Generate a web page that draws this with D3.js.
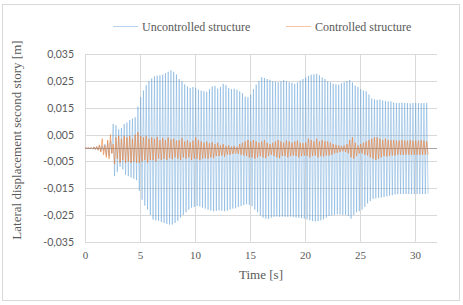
<!DOCTYPE html>
<html>
<head>
<meta charset="utf-8">
<script src="https://cdn.jsdelivr.net/npm/d3@7"></script>
<style>
  body { margin: 0; background: #fff; }
  svg { display: block; }
</style>
</head>
<body>
<div id="chart"></div>
<script>
// peaks, one max and one min per 0.25 s cycle, in mm
const cycleLength = 0.25;

const uncontrolledUpper = [
  0.2, 0.3, 0.2, 0.5,  0.6, 1.0, 0.8, 1.5,  2.0, 2.6, 9.0, 8.5,  7.0, 7.5, 9.0, 9.5,
  10.5, 11.0, 11.5, 15.5,  19.0, 21.5, 23.5, 25.0,  26.0, 26.8, 27.0, 27.2,  27.4, 28.0, 28.5, 29.0,
  28.5, 27.5, 25.8, 25.0,  23.8, 23.0, 22.5, 22.8,  22.5, 21.8, 21.5, 21.2,  21.0, 22.0, 23.0, 23.2,
  22.2, 22.8, 24.0, 23.5,  22.4, 22.0, 22.2, 21.8,  21.2, 20.5, 19.2, 19.0,  20.0, 22.0, 23.7, 25.0,
  26.5, 26.2, 25.8, 25.5,  25.0, 24.8, 24.6, 25.0,  25.4, 25.0, 24.6, 24.4,  24.0, 24.5, 25.2, 25.8,
  26.4, 27.0, 27.4, 27.6,  27.7, 27.2, 26.4, 25.8,  25.0, 24.6, 24.0, 23.8,  23.7, 24.2, 24.6, 25.0,
  25.4, 24.5, 23.3, 22.8,  22.0, 21.5, 21.2, 20.0,  18.5, 18.2, 18.0, 18.1,  17.8, 17.6, 17.4, 17.4,
  17.0, 16.8, 16.8, 16.9,  16.8, 16.8, 16.7, 16.8,  16.8, 16.8, 16.8, 16.8,  16.8
];
const uncontrolledLower = [
  -0.2, -0.3, -0.4, -0.6,  -0.8, -1.2, -1.0, -2.5,  -3.0, -2.0, -10.5, -9.0,  -7.0, -8.0, -10.0, -10.5,
  -11.0, -11.5, -12.0, -16.0,  -19.3, -21.5, -23.0, -25.0,  -26.7, -27.0, -27.2, -27.6,  -28.0, -28.4, -28.6, -28.6,
  -28.0, -27.2, -26.0, -25.0,  -24.0, -23.0, -22.3, -22.0,  -21.7, -21.8, -22.3, -22.6,  -23.0, -23.3, -23.6, -23.5,
  -23.3, -23.4, -23.6, -23.4,  -23.0, -22.6, -22.5, -22.0,  -21.7, -21.3, -21.0, -21.2,  -21.7, -23.0, -24.0, -25.2,
  -26.0, -26.4, -26.5, -26.0,  -25.7, -25.6, -25.7, -25.6,  -25.7, -25.7, -25.6, -25.8,  -26.0, -26.0, -26.2, -26.4,
  -26.7, -27.0, -27.3, -27.4,  -27.3, -27.0, -26.6, -26.0,  -25.4, -25.2, -25.0, -24.8,  -24.8, -25.0, -25.0, -25.4,
  -26.4, -25.0, -24.0, -23.6,  -23.0, -22.0, -20.7, -19.8,  -19.0, -18.8, -18.6, -18.5,  -18.3, -18.0, -17.8, -17.6,
  -17.3, -17.2, -17.2, -17.2,  -17.2, -17.2, -17.2, -17.2,  -17.2, -17.2, -17.2, -17.2,  -17.0
];

const controlledUpper = [
  0.1, 0.1, 0.2, 0.4,  0.6, 1.2, 3.5, 1.0,  3.0, 5.0, 1.5, 4.0,  4.5, 3.5, 4.5, 4.0,
  4.5, 3.5, 5.0, 6.0,  4.5, 4.0, 4.5, 3.5,  4.0, 3.5, 4.2, 3.0,  3.8, 3.0, 4.0, 3.2,
  3.5, 2.8, 3.0, 3.8,  2.5, 3.0, 2.2, 2.8,  4.0, 3.0, 2.5, 2.0,  2.5, 1.8, 2.2, 1.5,
  2.0, 1.0, 1.5, 0.8,  1.0, 0.5, 0.8, 0.4,  1.5, 2.0, 2.5, 3.0,  2.5, 3.0, 2.5, 2.0,
  2.5, 3.0, 2.0, 1.5,  2.0, 2.5, 3.0, 2.5,  2.0, 2.8, 2.5, 2.0,  2.5, 2.8, 2.0, 1.8,
  2.0, 3.5, 3.0, 2.5,  3.5, 2.5, 3.0, 2.5,  2.5, 2.0, 1.5, 1.2,  1.0, 0.8, 1.0, 1.5,
  3.0, 4.0, 2.0, 1.0,  1.5, 2.0, 2.5, 3.0,  3.5, 4.0, 4.0, 3.5,  3.0, 3.5, 3.0, 3.0,
  3.0, 2.8, 2.8, 3.0,  2.8, 2.8, 3.0, 2.8,  2.8, 2.8, 3.0, 2.8,  2.5
];
const controlledLower = [
  -0.1, -0.2, -0.3, -0.5,  -0.8, -1.5, -2.5, -3.5,  -4.0, -2.0, -6.0, -4.0,  -5.5, -4.5, -5.5, -5.0,
  -5.5, -5.0, -5.5, -5.5,  -5.0, -4.5, -5.5, -4.5,  -4.5, -5.0, -4.0, -4.5,  -4.0, -4.5, -3.8, -4.2,
  -3.5, -4.0, -4.5, -3.5,  -4.0, -3.5, -4.5, -4.0,  -4.0, -4.5, -4.0, -3.8,  -4.0, -3.5, -3.8, -3.0,
  -3.0, -2.8, -3.2, -2.5,  -2.5, -2.2, -2.0, -2.2,  -2.5, -2.8, -3.0, -3.5,  -3.5, -4.0, -3.5, -3.0,
  -3.5, -3.8, -3.0, -2.5,  -3.0, -3.5, -3.8, -3.0,  -3.0, -3.5, -3.0, -2.8,  -3.0, -3.5, -3.0, -2.8,
  -3.0, -3.5, -3.0, -2.8,  -3.5, -3.0, -3.2, -2.8,  -2.8, -2.5, -2.0, -1.8,  -1.5, -1.2, -1.5, -2.0,
  -3.5, -4.0, -3.0, -2.0,  -2.0, -2.5, -2.8, -3.5,  -4.0, -4.5, -4.0, -3.5,  -3.0, -3.2, -3.0, -2.8,
  -2.8, -2.5, -2.5, -2.6,  -2.5, -2.5, -2.6, -2.5,  -2.5, -2.6, -2.5, -2.5,  -2.5
];

const xTicks = [0, 5, 10, 15, 20, 25, 30];
const yTicks = [-0.035, -0.025, -0.015, -0.005, 0.005, 0.015, 0.025, 0.035];
const seriesNames = ["Uncontrolled structure", "Controlled structure"];
const seriesColors = ["#5B9BD5", "#ED7D31"];
const seriesWidths = [0.5, 0.7];

const w = 463;
const h = 305;

// turn the per-cycle peaks into [time, metres] points
function buildPoints(upper, lower) {
  const pts = [[0, 0]];
  upper.forEach((u, i) => {
    pts.push([i * cycleLength + cycleLength * 0.25, u / 1000]);
    pts.push([i * cycleLength + cycleLength * 0.75, lower[i] / 1000]);
  });
  return pts;
}

const series = [
  buildPoints(uncontrolledUpper, uncontrolledLower),
  buildPoints(controlledUpper, controlledLower)
];

const svg = d3.select("#chart")
  .append("svg")
  .attr("width", w)
  .attr("height", h);

// outer chart border
svg.append("rect")
  .attr("x", 2.5)
  .attr("y", 4.5)
  .attr("width", 457)
  .attr("height", 296)
  .attr("fill", "#fff")
  .attr("stroke", "#D9D9D9");

const xScale = d3.scaleLinear()
  .domain([0, 32])
  .range([85, 437]);

const yScale = d3.scaleLinear()
  .domain([-0.035, 0.035])
  .range([241.7, 54.4]);

// gridlines
svg.append("g")
  .selectAll("line.hgrid")
  .data(yTicks)
  .join("line")
    .attr("class", "hgrid")
    .attr("x1", xScale(0))
    .attr("x2", xScale(32))
    .attr("y1", d => Math.round(yScale(d)) + 0.5)
    .attr("y2", d => Math.round(yScale(d)) + 0.5)
    .attr("stroke", "#D9D9D9")
    .attr("stroke-width", 1);

svg.append("g")
  .selectAll("line.vgrid")
  .data(xTicks)
  .join("line")
    .attr("class", "vgrid")
    .attr("x1", d => Math.round(xScale(d)) + 0.5)
    .attr("x2", d => Math.round(xScale(d)) + 0.5)
    .attr("y1", yScale(0.035))
    .attr("y2", yScale(-0.035))
    .attr("stroke", "#D9D9D9")
    .attr("stroke-width", 1);

// zero line (horizontal axis)
svg.append("line")
  .attr("x1", xScale(0))
  .attr("x2", xScale(32))
  .attr("y1", Math.round(yScale(0)) + 0.5)
  .attr("y2", Math.round(yScale(0)) + 0.5)
  .attr("stroke", "#A6A6A6")
  .attr("stroke-width", 1);

// y axis labels
const yAxis = d3.axisLeft(yScale)
  .tickValues(yTicks)
  .tickSize(0)
  .tickPadding(11)
  .tickFormat(d => d3.format(".3f")(d).replace(".", ",").replace("−", "-"));

svg.append("g")
  .attr("transform", "translate(" + xScale(0) + ", 0)")
  .call(yAxis)
  .call(g => g.select(".domain").remove())
  .call(g => g.selectAll(".tick text")
    .attr("fill", "#595959")
    .style("font-family", "Lato, 'Liberation Sans', sans-serif")
    .style("font-size", "10.5px"));

// x axis labels
const xAxis = d3.axisBottom(xScale)
  .tickValues(xTicks)
  .tickSize(0)
  .tickPadding(10);

svg.append("g")
  .attr("transform", "translate(0, " + yScale(-0.035) + ")")
  .call(xAxis)
  .call(g => g.select(".domain").remove())
  .call(g => g.selectAll(".tick text")
    .attr("fill", "#595959")
    .style("font-family", "'Liberation Serif', serif")
    .style("font-size", "11px"));

// the two series, thin strokes so the dense oscillation reads as a light band
const line = d3.line()
  .x(d => xScale(d[0]))
  .y(d => yScale(d[1]));

svg.selectAll("path.series")
  .data(series)
  .join("path")
    .attr("class", "series")
    .attr("d", line)
    .attr("fill", "none")
    .attr("stroke", (d, i) => seriesColors[i])
    .attr("stroke-width", (d, i) => seriesWidths[i])
    .attr("stroke-opacity", 0.85)
    .attr("stroke-linejoin", "round");

// axis titles
svg.append("text")
  .attr("x", xScale(16))
  .attr("y", 279)
  .attr("text-anchor", "middle")
  .style("font-family", "'Liberation Serif', serif")
  .style("font-size", "13px")
  .attr("fill", "#595959")
  .text("Time [s]");

svg.append("text")
  .attr("transform", "translate(21, 140) rotate(-90)")
  .attr("text-anchor", "middle")
  .style("font-family", "'Liberation Serif', serif")
  .style("font-size", "13px")
  .attr("fill", "#595959")
  .text("Lateral displacement second story [m]");

// legend
const legendX = [113, 286];
const legend = svg.selectAll("g.legend")
  .data(seriesNames)
  .join("g")
    .attr("class", "legend")
    .attr("transform", (d, i) => "translate(" + legendX[i] + ", 26.5)");

legend.append("line")
  .attr("x1", 0)
  .attr("x2", 25)
  .attr("stroke", (d, i) => seriesColors[i])
  .attr("stroke-width", 0.75)
  .attr("stroke-opacity", 0.6);

legend.append("text")
  .attr("x", 29)
  .attr("y", 4)
  .style("font-family", "'Liberation Serif', serif")
  .style("font-size", "12px")
  .attr("fill", "#595959")
  .text(d => d);
</script>
</body>
</html>
